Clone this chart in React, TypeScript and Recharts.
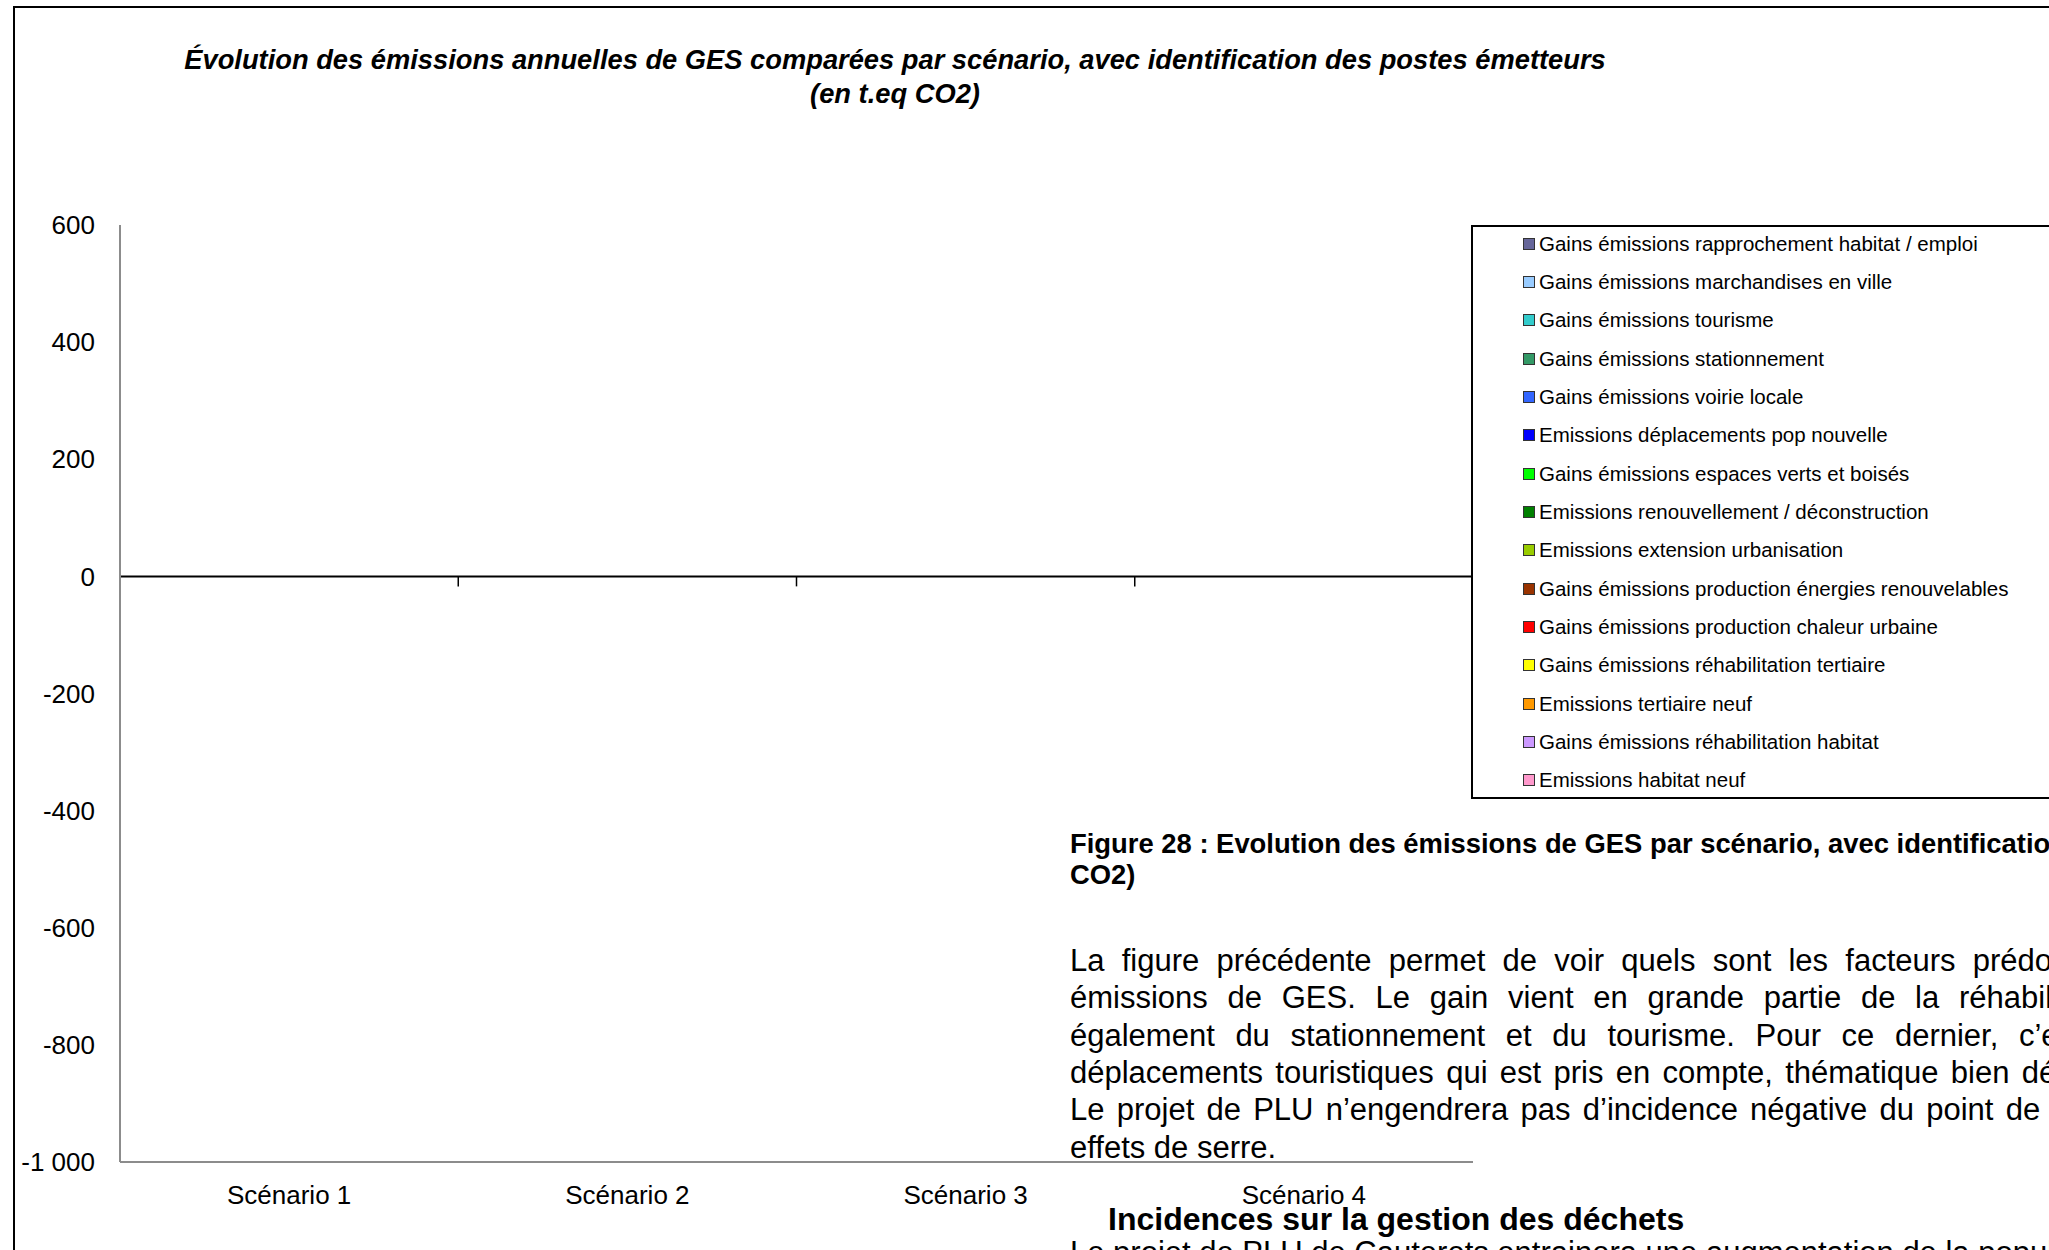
import { Bar, BarChart, Legend, ReferenceLine, XAxis, YAxis } from "recharts";

const scenarios = ["Scénario 1", "Scénario 2", "Scénario 3", "Scénario 4"];

// values per poste, one per scenario (no bar visible in the picture)
const rapprochementHabitatEmploi = [0, 0, 0, 0];
const marchandisesEnVille = [0, 0, 0, 0];
const tourisme = [0, 0, 0, 0];
const stationnement = [0, 0, 0, 0];
const voirieLocale = [0, 0, 0, 0];
const deplacementsPopNouvelle = [0, 0, 0, 0];
const espacesVerts = [0, 0, 0, 0];
const renouvellement = [0, 0, 0, 0];
const extensionUrbanisation = [0, 0, 0, 0];
const energiesRenouvelables = [0, 0, 0, 0];
const chaleurUrbaine = [0, 0, 0, 0];
const rehabTertiaire = [0, 0, 0, 0];
const tertiaireNeuf = [0, 0, 0, 0];
const rehabHabitat = [0, 0, 0, 0];
const habitatNeuf = [0, 0, 0, 0];

const seriesNames = [
  "Gains émissions rapprochement habitat / emploi",
  "Gains émissions marchandises en ville",
  "Gains émissions tourisme",
  "Gains émissions stationnement",
  "Gains émissions voirie locale",
  "Emissions déplacements pop nouvelle",
  "Gains émissions espaces verts et boisés",
  "Emissions renouvellement / déconstruction",
  "Emissions extension urbanisation",
  "Gains émissions production énergies renouvelables",
  "Gains émissions production chaleur urbaine",
  "Gains émissions réhabilitation tertiaire",
  "Emissions tertiaire neuf",
  "Gains émissions réhabilitation habitat",
  "Emissions habitat neuf",
];

const seriesValues = [
  rapprochementHabitatEmploi,
  marchandisesEnVille,
  tourisme,
  stationnement,
  voirieLocale,
  deplacementsPopNouvelle,
  espacesVerts,
  renouvellement,
  extensionUrbanisation,
  energiesRenouvelables,
  chaleurUrbaine,
  rehabTertiaire,
  tertiaireNeuf,
  rehabHabitat,
  habitatNeuf,
];

const seriesColors = [
  "#666699",
  "#99CCFF",
  "#33CCCC",
  "#339966",
  "#3366FF",
  "#0000FF",
  "#00FF00",
  "#008000",
  "#99CC00",
  "#993300",
  "#FF0000",
  "#FFFF00",
  "#FF9900",
  "#CC99FF",
  "#FF99CC",
];

const yTicks = [-1000, -800, -600, -400, -200, 0, 200, 400, 600];

const titleLines = [
  "Évolution des émissions annuelles de GES comparées par scénario, avec identification des postes émetteurs",
  "(en t.eq CO2)",
];

const captionLines = [
  "Figure 28 : Evolution des émissions de GES par scénario, avec identification des postes émetteurs (en t.eq",
  "CO2)",
];

const paragraphLines = [
  "La figure précédente permet de voir quels sont les facteurs prédominants dans",
  "émissions de GES. Le gain vient en grande partie de la réhabilitation de",
  "également du stationnement et du tourisme. Pour ce dernier, c’est la",
  "déplacements touristiques qui est pris en compte, thématique bien développée",
  "Le projet de PLU n’engendrera pas d’incidence négative du point de vue des",
  "effets de serre.",
];
const paragraphSpacing = [8.6, 11.1, 12, 3.7, 3.6, 0];

const headingText = "Incidences sur la gestion des déchets";
const nextLineText = "Le projet de PLU de Cauterets entrainera une augmentation de la population";

const data = scenarios.map((scenario, i) => {
  const row: Record<string, string | number> = { scenario };
  seriesNames.forEach((_, k) => {
    row[`s${k}`] = seriesValues[k][i];
  });
  return row;
});

const FONT = "'Liberation Sans', Arial, sans-serif";
const GRAY = "#8c8c8c";

const fmt = (v: number) => String(v).replace(/\B(?=(\d{3})+(?!\d))/g, " ");

function ZeroAxis(props: any) {
  const { x1, y1, x2, y2 } = props;
  const step = (x2 - x1) / scenarios.length;
  const marks = Array.from({ length: scenarios.length + 1 }, (_, i) => x1 + i * step);
  return (
    <g>
      <line x1={x1} y1={y1} x2={x2} y2={y2} stroke="#000" strokeWidth={2} />
      {marks.map((mx, i) => (
        <line key={i} x1={mx} y1={y1} x2={mx} y2={y1 + 10} stroke="#000" strokeWidth={1.5} />
      ))}
    </g>
  );
}

function LegendBox({ payload }: any) {
  const items = [...(payload ?? [])].sort(
    (a: any, b: any) => seriesNames.indexOf(a.value) - seriesNames.indexOf(b.value)
  );
  return (
    <div
      style={{
        border: "2px solid #000",
        background: "#fff",
        width: 700,
        height: 574,
        boxSizing: "border-box",
        fontFamily: FONT,
        overflow: "hidden",
      }}
    >
      <div style={{ marginTop: -2.5 }}>
        {items.map((p: any) => (
          <div
            key={p.value}
            style={{ height: 38.35, display: "flex", alignItems: "center", paddingLeft: 50 }}
          >
            <span
              style={{
                display: "inline-block",
                width: 10,
                height: 10,
                background: p.color,
                border: "1.5px solid #333",
                marginRight: 4,
              }}
            />
            <span style={{ fontSize: 20.5, color: "#000", whiteSpace: "nowrap" }}>{p.value}</span>
          </div>
        ))}
      </div>
    </div>
  );
}

export default function App() {
  return (
    <div
      style={{
        position: "fixed",
        left: 0,
        top: 0,
        width: 2049,
        height: 1250,
        overflow: "hidden",
        background: "#fff",
        fontFamily: FONT,
      }}
    >
      <div
        style={{
          position: "absolute",
          left: 13,
          top: 6,
          width: 2200,
          height: 1400,
          border: "2px solid #000",
        }}
      />
      <div style={{ position: "absolute", left: 0, top: 0 }}>
        <BarChart
          width={2049}
          height={1250}
          data={data}
          margin={{ top: 225, right: 576, bottom: 28, left: 20 }}
        >
          <XAxis
            dataKey="scenario"
            height={60}
            axisLine={{ stroke: GRAY, strokeWidth: 2 }}
            tickLine={false}
            tickSize={0}
            tickMargin={24}
            tick={{ fontSize: 26, fill: "#000", fontFamily: FONT }}
          />
          <XAxis
            xAxisId="t"
            orientation="top"
            dataKey="scenario"
            height={0}
            tick={false}
            tickLine={false}
            axisLine={{ stroke: GRAY, strokeWidth: 2 }}
          />
          <YAxis
            width={100}
            domain={[-1000, 600]}
            ticks={yTicks}
            interval={0}
            tickFormatter={fmt}
            axisLine={{ stroke: GRAY, strokeWidth: 2 }}
            tickLine={false}
            tickSize={0}
            tickMargin={25}
            tick={{ fontSize: 26, fill: "#000", fontFamily: FONT }}
          />
          <YAxis
            yAxisId="r"
            orientation="right"
            width={0}
            domain={[-1000, 600]}
            tick={false}
            tickLine={false}
            axisLine={{ stroke: GRAY, strokeWidth: 2 }}
          />
          <ReferenceLine y={0} shape={(p: any) => <ZeroAxis {...p} />} />
          {seriesNames.map((name, k) => (
            <Bar
              key={name}
              dataKey={`s${k}`}
              name={name}
              stackId="a"
              fill={seriesColors[k]}
              stroke="#000"
              isAnimationActive={false}
            />
          ))}
          <Legend
            layout="vertical"
            align="center"
            verticalAlign="middle"
            itemSorter={null as any}
            content={<LegendBox />}
            wrapperStyle={{ left: 1471, top: 225, width: 700, height: 574 }}
          />
        </BarChart>
      </div>

      {titleLines.map((t, i) => (
        <div
          key={t}
          style={{
            position: "absolute",
            left: 895 - 900,
            top: 46 + i * 34,
            width: 1800,
            textAlign: "center",
            fontSize: 27.3,
            lineHeight: 1,
            fontWeight: "bold",
            fontStyle: "italic",
            whiteSpace: "nowrap",
          }}
        >
          {t}
        </div>
      ))}

      {captionLines.map((t, i) => (
        <div
          key={t}
          style={{
            position: "absolute",
            left: 1070,
            top: 830 + i * 31,
            fontSize: 27.4,
            lineHeight: 1,
            fontWeight: "bold",
            whiteSpace: "nowrap",
          }}
        >
          {t}
        </div>
      ))}

      {paragraphLines.map((t, i) => (
        <div
          key={t}
          style={{
            position: "absolute",
            left: 1070,
            top: 945 + i * 37.3,
            fontSize: 31,
            lineHeight: 1,
            wordSpacing: paragraphSpacing[i],
            whiteSpace: "nowrap",
          }}
        >
          {t}
        </div>
      ))}

      <div
        style={{
          position: "absolute",
          left: 1108,
          top: 1203,
          fontSize: 32,
          lineHeight: 1,
          fontWeight: "bold",
          whiteSpace: "nowrap",
        }}
      >
        {headingText}
      </div>
      <div
        style={{
          position: "absolute",
          left: 1070,
          top: 1237,
          fontSize: 31,
          lineHeight: 1,
          whiteSpace: "nowrap",
        }}
      >
        {nextLineText}
      </div>
    </div>
  );
}
